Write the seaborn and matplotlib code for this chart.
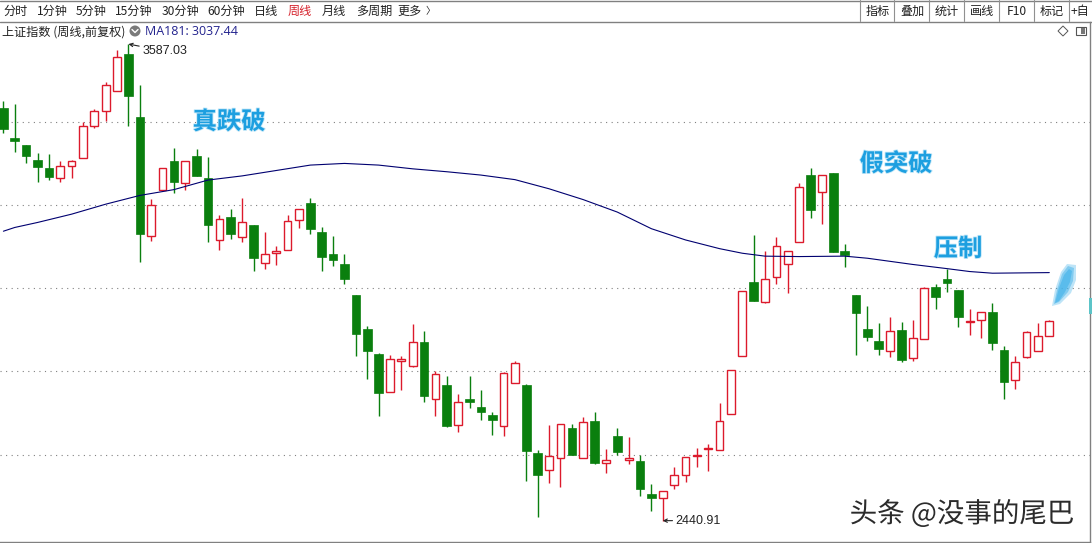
import numpy as np
import pandas as pd
import seaborn as sns
import matplotlib.pyplot as plt
import matplotlib.patheffects as pe
from matplotlib.patches import Circle, Polygon, Rectangle

# Weekly candles of the index
opens = [3434, 3361, 3345, 3309, 3290, 3265, 3294, 3313, 3390, 3427, 3475, 3563, 3411, 3126, 3236, 3307,
         3253, 3319, 3264, 3117, 3170, 3123, 3153, 3061, 3085, 3092, 3165, 3206, 3136, 3083, 3057, 2983,
         2903, 2841, 2751, 2825, 2813, 2871, 2734, 2768, 2671, 2734, 2715, 2695, 2669, 2772, 2768, 2604,
         2563, 2592, 2664, 2592, 2681, 2580, 2645, 2587, 2585, 2505, 2496, 2527, 2551, 2597, 2613, 2611,
         2698, 2838, 3016, 2967, 3028, 3057, 3110, 3271, 3232, 3278, 3090, 2984, 2903, 2874, 2850, 2900,
         2833, 2878, 3004, 3023, 2996, 2919, 2924, 2943, 2852, 2780, 2834, 2850, 2886]
highs = [3450, 3443, 3345, 3324, 3322, 3307, 3309, 3399, 3432, 3495, 3572, 3587.03, 3488, 3215, 3290, 3337,
         3307, 3334, 3315, 3175, 3191, 3218, 3153, 3134, 3102, 3177, 3191, 3218, 3148, 3126, 3081, 2983,
         2908, 2845, 2840, 2836, 2913, 2896, 2801, 2789, 2746, 2789, 2756, 2703, 2798, 2824, 2770, 2612,
         2671, 2674, 2674, 2691, 2703, 2614, 2664, 2642, 2599, 2529, 2512, 2570, 2594, 2616, 2626, 2724,
         2804, 2993, 3129, 3090, 3122, 3090, 3252, 3288, 3271, 3278, 3107, 2984, 2956, 2917, 2931, 2919,
         2924, 3004, 3011, 3047, 2996, 2951, 2943, 2965, 2862, 2838, 2898, 2917, 2924]
lows = [3374, 3327, 3301, 3255, 3260, 3255, 3264, 3313, 3385, 3402, 3475, 3390, 3062, 3113, 3236, 3229,
        3236, 3270, 3111, 3092, 3118, 3111, 3041, 3046, 3056, 3092, 3144, 3130, 3041, 3053, 3011, 2837,
        2781, 2692, 2751, 2755, 2811, 2726, 2692, 2666, 2654, 2711, 2683, 2646, 2644, 2772, 2536, 2449,
        2531, 2521, 2598, 2592, 2577, 2555, 2598, 2577, 2500, 2463, 2440.91, 2516, 2533, 2569, 2560, 2611,
        2698, 2838, 2969, 2964, 3009, 2988, 3110, 3169, 3155, 3087, 3051, 2839, 2873, 2839, 2834, 2822,
        2825, 2878, 2950, 2991, 2907, 2888, 2880, 2851, 2733, 2757, 2832, 2850, 2886]
closes = [3383, 3353, 3318, 3292, 3268, 3294, 3307, 3391, 3427, 3488, 3557, 3463, 3130, 3199, 3288, 3256,
          3307, 3270, 3152, 3166, 3130, 3158, 3073, 3081, 3090, 3162, 3191, 3142, 3075, 3068, 3023, 2890,
          2849, 2748, 2830, 2829, 2871, 2740, 2794, 2668, 2727, 2726, 2702, 2683, 2797, 2821, 2608, 2550,
          2597, 2674, 2598, 2678, 2579, 2587, 2605, 2592, 2516, 2495, 2512, 2550, 2594, 2599, 2616, 2681,
          2804, 2992, 2969, 3021, 3102, 3090, 3244, 3188, 3271, 3087, 3080, 2940, 2882, 2854, 2897, 2827,
          2881, 3001, 2979, 3012, 2931, 2922, 2943, 2869, 2774, 2822, 2895, 2886, 2922]

# MA181 line, read every few candles
ma_week = [0, 1, 3, 6, 9, 12, 15, 18, 21, 24, 27, 30, 33, 36, 39, 42, 45, 48, 51, 54, 57, 60, 63, 65, 67,
           70, 74, 76, 80, 83, 85, 87, 92]
ma_value = [3137, 3146, 3158, 3178, 3202, 3223, 3237, 3260, 3270, 3283, 3296, 3300, 3296, 3287, 3280, 3272,
            3261, 3239, 3213, 3183, 3143, 3116, 3095, 3084, 3077, 3076, 3077, 3072, 3057, 3047, 3040, 3036,
            3037.44]

grid_prices = [3400, 3200, 3000, 2800, 2600]

left_tabs = ["分时", "1分钟", "5分钟", "15分钟", "30分钟", "60分钟", "日线", "周线", "月线", "多周期", "更多"]
left_tab_x = [16, 52, 91, 134, 180, 226, 266, 300, 334, 374, 410]
right_tabs = ["指标", "叠加", "统计", "画线", "F10", "标记", "+自"]
right_tab_x = [878, 912, 947, 982, 1017, 1052, 1080]
right_seps = [860, 894, 929, 964, 999, 1034, 1069]

UP = "#dc1a2c"
DOWN = "#0a7f0e"
NAVY = "#000070"
NOTE = "#1d9fe0"

sns.set_theme(style="white")
plt.rcParams["font.family"] = ["Noto Sans CJK SC", "DejaVu Sans"]
plt.rcParams["axes.unicode_minus"] = False

df = pd.DataFrame({"open": opens, "high": highs, "low": lows, "close": closes})
df["week"] = np.arange(len(df))
df["top"] = df[["open", "close"]].max(axis=1)
df["bottom"] = df[["open", "close"]].min(axis=1)
df["rising"] = df["close"] > df["open"]
ma = pd.DataFrame({"week": ma_week, "ma": ma_value})

fig = plt.figure(figsize=(10.92, 5.43), dpi=100, facecolor="white")
ax = fig.add_axes([0, 1.3 / 543, 1090 / 1092, 519.7 / 543])

# dotted price levels
for p in grid_prices:
    ax.axhline(p, color="#808080", lw=0.8, ls=(0, (1, 4)), zorder=1)

# wicks first, then the bodies over them
ups = df[df["rising"]]
downs = df[~df["rising"]]
ax.vlines(ups["week"], ups["low"], ups["high"], color=UP, lw=1.0, zorder=2)
ax.vlines(downs["week"], downs["low"], downs["high"], color=DOWN, lw=1.0, zorder=2)
ax.bar(ups["week"], ups["top"] - ups["bottom"], bottom=ups["bottom"], width=0.68,
       facecolor="white", edgecolor=UP, linewidth=1.0, zorder=3)
ax.bar(downs["week"], downs["top"] - downs["bottom"], bottom=downs["bottom"], width=0.76,
       facecolor=DOWN, edgecolor=DOWN, linewidth=0.5, zorder=3)

sns.lineplot(data=ma, x="week", y="ma", ax=ax, color=NAVY, lw=0.8, zorder=4, legend=False)

# high and low marks
arrow = dict(arrowstyle="->", color="#222222", lw=0.8, shrinkA=0, shrinkB=0, mutation_scale=6)
ax.annotate("3587.03", xy=(11, 3587.03), xytext=(14, -7), textcoords="offset pixels", ha="left", va="center",
            fontsize=9, color="#222222", arrowprops=arrow, zorder=6, family=["Liberation Sans"])
ax.annotate("2440.91", xy=(58, 2440.91), xytext=(13, 0), textcoords="offset pixels", ha="left", va="center",
            fontsize=9, color="#222222", arrowprops=arrow, zorder=6, family=["Liberation Sans"])

ax.set_xlim(-0.3, 95.58)
ax.set_ylim(2390.3, 3640.1)
ax.set_xlabel("")
ax.set_ylabel("")
ax.set_xticks([])
ax.set_yticks([])
for side in ["top", "left"]:
    ax.spines[side].set_visible(False)
for side in ["right", "bottom"]:
    ax.spines[side].set_color("#808080")
    ax.spines[side].set_linewidth(1.0)

# window chrome and notes go on an overlay in pixel coordinates
ov = fig.add_axes([0, 0, 1, 1], facecolor="none")
ov.set_xlim(0, 1092)
ov.set_ylim(543, 0)
ov.axis("off")

ov.plot([0, 1092], [0.5, 0.5], color="#808080", lw=1.0)
ov.plot([0, 1092], [21.5, 21.5], color="#808080", lw=1.0)
for x in right_seps:
    ov.plot([x, x], [0, 21], color="#909090", lw=0.8)
for label, x in zip(left_tabs, left_tab_x):
    ov.text(x, 11.5, label, ha="center", va="center", fontsize=8.7,
            color="#d5202a" if label == "周线" else "#222222")
ov.text(430, 11.5, "〉", ha="center", va="center", fontsize=7, color="#222222")
for label, x in zip(right_tabs, right_tab_x):
    ov.text(x, 11.5, label, ha="center", va="center", fontsize=8.7, color="#222222")

ov.text(2, 32, "上证指数 (周线,前复权)", ha="left", va="center", fontsize=8.7, color="#222222")
ov.add_patch(Circle((135, 31), 5.5, color="#7a7a7a", lw=0))
ov.plot([132, 135, 138], [29.5, 32.5, 29.5], color="white", lw=1.0)
ov.text(145, 31.5, "MA181: 3037.44", ha="left", va="center", fontsize=9, color="#23238e",
        family=["Open Sans"])
ov.add_patch(Polygon([(1063, 26), (1068, 31), (1063, 36), (1058, 31)], fill=False, ec="#555555", lw=0.7))
ov.add_patch(Rectangle((1076, 27), 10, 8, fill=False, ec="#555555", lw=0.8))
ov.add_patch(Rectangle((1081, 28), 4, 6, color="#777777", lw=0))
ov.add_patch(Rectangle((1089, 298), 3, 16, color="#5cc4c8", lw=0))

# annotations painted on the chart
notes = [("真跌破", 229, 122), ("假突破", 896, 164), ("压制", 958, 249)]
for label, x, y in notes:
    ov.text(x, y, label, ha="center", va="center", fontsize=17.5, fontweight="bold", color=NOTE, zorder=7,
            path_effects=[pe.withStroke(linewidth=1.2, foreground="#bfe6f8")])

# brush stroke after the last candle, soft outer shape then denser inner ones
brush_outer = [(1052, 306), (1055, 290), (1061, 272), (1067, 264), (1076, 265), (1076, 280), (1071, 293), (1060, 304)]
brush_mid = [(1054, 304), (1057, 290), (1062, 274), (1068, 266), (1074, 268), (1073, 281), (1068, 292), (1059, 302)]
brush_core = [(1055, 303), (1059, 288), (1064, 275), (1069, 269), (1072, 271), (1070, 282), (1065, 292), (1059, 301)]
for shape, a in [(brush_outer, 0.35), (brush_mid, 0.5), (brush_core, 0.65)]:
    ov.add_patch(Polygon(shape, closed=True, color="#45b4ea", alpha=a, lw=0, zorder=7))

ov.text(962, 514, "头条 @没事的尾巴", ha="center", va="center", fontsize=19.8, color="#2b2b2b", zorder=8,
        path_effects=[pe.withStroke(linewidth=2, foreground="white")])

fig.savefig("out.png", dpi=100, facecolor="white")
